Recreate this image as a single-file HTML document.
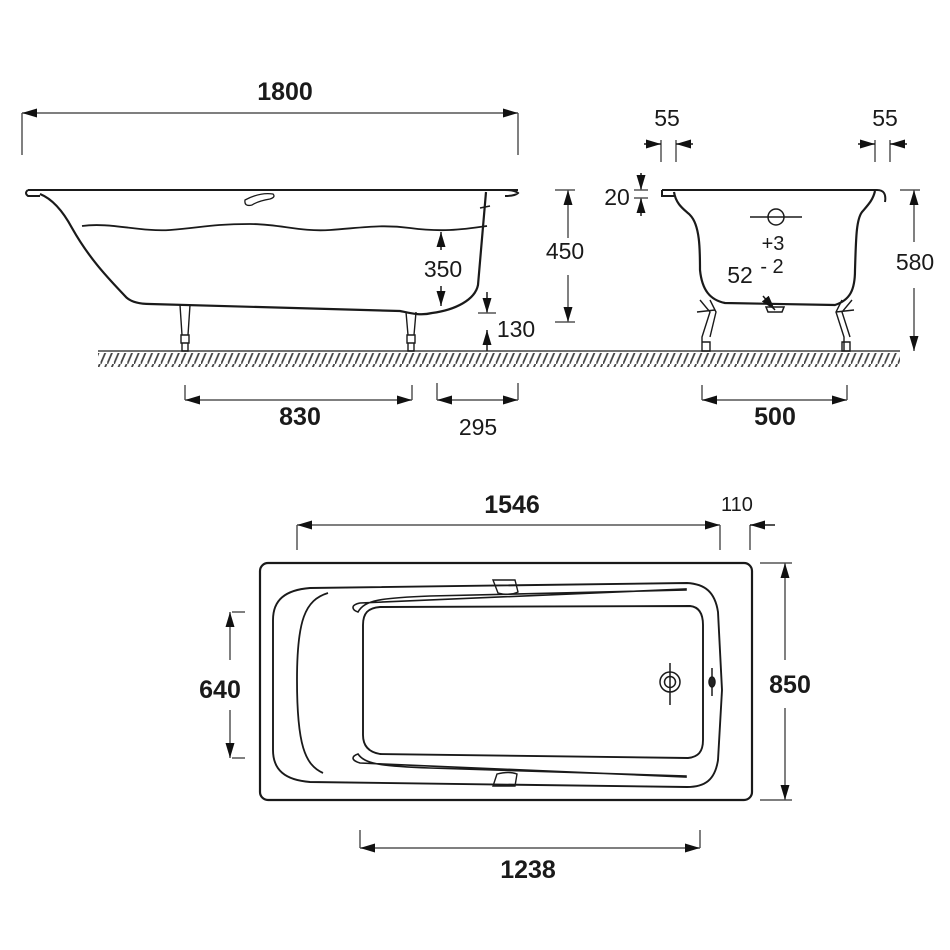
<!DOCTYPE html>
<html><head><meta charset="utf-8"><style>
html,body{margin:0;padding:0;background:#fff;}
svg{display:block;}
text{font-family:"Liberation Sans",Arial,sans-serif;fill:#1a1a1a;}
.b{font-weight:bold;font-size:25px;}
.n{font-size:23px;}
</style></head><body>
<svg width="950" height="950" viewBox="0 0 950 950" xmlns="http://www.w3.org/2000/svg">
<defs>
<marker id="a" viewBox="0 0 10 6" refX="10" refY="3" markerWidth="15" markerHeight="9" orient="auto-start-reverse" markerUnits="userSpaceOnUse"><path d="M0,0 L10,3 L0,6 Z" fill="#111"/></marker>
<pattern id="h" width="6.7" height="14" patternUnits="userSpaceOnUse"><line x1="0" y1="14" x2="6" y2="0" stroke="#444" stroke-width="1.8"/></pattern>
</defs>
<g stroke="#1a1a1a" fill="none" stroke-width="1.5">
<!-- 1800 -->
<line x1="22" y1="113" x2="22" y2="155" stroke="#555"/>
<line x1="518" y1="113" x2="518" y2="155" stroke="#555"/>
<line x1="22" y1="113" x2="518" y2="113" stroke="#555" marker-start="url(#a)" marker-end="url(#a)"/>
<!-- floor -->
<line x1="98" y1="351" x2="900" y2="351" stroke="#444" stroke-width="1.6"/>
<!-- side view tub -->
<path d="M28,190 L518,190 M28,190 q-4,3 0,6 L40,196 M505,190 q10,0 13,3 q-3,3 -13,3" stroke-width="2"/>
<path d="M40,194 C55,200 65,215 72,228 C90,260 110,280 125,296 C130,302 140,304 150,304 L400,311 C410,313 420,316 432,313 C455,310 475,300 478,285 L486,192" stroke-width="2.2"/>
<path d="M82,226 C110,222 140,232 170,230 C200,228 210,224 250,224 C280,224 300,232 330,230 C360,228 380,224 410,228 C440,232 460,230 487,226" stroke-width="1.8"/>
<path d="M245,200 q15,-8 28,-6 q3,3 -3,5 q-12,2 -18,6 q-8,2 -7,-5z" stroke-width="1.3"/>
<line x1="480" y1="208" x2="490" y2="206"/>
<!-- legs -->
<path d="M180,305 L182,335 M190,305 L188,335 M181,335 h8 v8 h-8z M182,343 h6 v8 h-6z" stroke-width="1.4"/>
<path d="M406,312 L408,335 M416,312 L414,335 M407,335 h8 v8 h-8z M408,343 h6 v8 h-6z" stroke-width="1.4"/>
<!-- 350 -->
<line x1="441" y1="232" x2="441" y2="250" marker-start="url(#a)"/>
<line x1="441" y1="286" x2="441" y2="306" marker-end="url(#a)"/>
<!-- 130 -->
<line x1="487" y1="292" x2="487" y2="313" marker-end="url(#a)"/>
<line x1="478" y1="313" x2="496" y2="313" stroke="#555"/>
<line x1="487" y1="330" x2="487" y2="351" marker-start="url(#a)"/>
<!-- 450 -->
<line x1="555" y1="190" x2="575" y2="190" stroke="#555"/>
<line x1="555" y1="322" x2="575" y2="322" stroke="#555"/>
<line x1="568" y1="190" x2="568" y2="238" stroke="#555" marker-start="url(#a)"/>
<line x1="568" y1="275" x2="568" y2="322" stroke="#555" marker-end="url(#a)"/>
<!-- 830 / 295 -->
<line x1="185" y1="385" x2="185" y2="400" stroke="#555"/>
<line x1="412" y1="385" x2="412" y2="400" stroke="#555"/>
<line x1="185" y1="400" x2="412" y2="400" stroke="#555" marker-start="url(#a)" marker-end="url(#a)"/>
<line x1="437" y1="383" x2="437" y2="400" stroke="#555"/>
<line x1="518" y1="383" x2="518" y2="400" stroke="#555"/>
<line x1="437" y1="400" x2="518" y2="400" stroke="#555" marker-start="url(#a)" marker-end="url(#a)"/>
<!-- end view -->
<path d="M662,190 L877,190 q10,0 8,12 M662,190 v6 h12" stroke-width="2"/>
<path d="M674,192 C676,205 685,210 690,215 C700,225 700,250 700,270 C702,290 710,300 725,303 L835,305 C850,300 855,290 855,270 C856,240 856,220 862,212 C868,205 873,200 875,191" stroke-width="2.2"/>
<line x1="750" y1="217" x2="802" y2="217"/>
<circle cx="776" cy="217" r="8"/>
<path d="M763,296 l12,14" marker-end="url(#a)"/>
<path d="M766,307 h18 l-2,5 h-14z"/>
<path d="M700,300 l10,12 l-8,25 v14 M710,300 l6,12 l-6,25 M697,312 l18,-2 M702,342 h8 v9 h-8z" stroke-width="1.4"/>
<path d="M842,300 l-6,12 l8,25 v14 M852,300 l-10,12 l8,25 M836,312 l18,-2 M842,342 h8 v9 h-8z" stroke-width="1.4"/>
<!-- 55s -->
<line x1="661" y1="140" x2="661" y2="162" stroke="#555"/><line x1="676" y1="140" x2="676" y2="162" stroke="#555"/>
<line x1="644" y1="144" x2="661" y2="144" marker-end="url(#a)"/><line x1="693" y1="144" x2="676" y2="144" marker-end="url(#a)"/>
<line x1="875" y1="140" x2="875" y2="162" stroke="#555"/><line x1="890" y1="140" x2="890" y2="162" stroke="#555"/>
<line x1="858" y1="144" x2="875" y2="144" marker-end="url(#a)"/><line x1="907" y1="144" x2="890" y2="144" marker-end="url(#a)"/>
<!-- 20 -->
<line x1="641" y1="173" x2="641" y2="190" marker-end="url(#a)"/>
<line x1="641" y1="216" x2="641" y2="198" marker-end="url(#a)"/>
<line x1="634" y1="190" x2="648" y2="190" stroke="#555"/><line x1="634" y1="198" x2="648" y2="198" stroke="#555"/>
<!-- 580 -->
<line x1="900" y1="190" x2="920" y2="190" stroke="#555"/>
<line x1="914" y1="190" x2="914" y2="242" stroke="#555" marker-start="url(#a)"/>
<line x1="914" y1="288" x2="914" y2="351" stroke="#555" marker-end="url(#a)"/>
<!-- 500 -->
<line x1="702" y1="385" x2="702" y2="400" stroke="#555"/><line x1="847" y1="385" x2="847" y2="400" stroke="#555"/>
<line x1="702" y1="400" x2="847" y2="400" stroke="#555" marker-start="url(#a)" marker-end="url(#a)"/>
<!-- top view -->
<rect x="260" y="563" width="492" height="237" rx="8" stroke-width="2.2"/>
<path d="M310,588 L687,583 C705,584 715,592 718,612 L722,690 L718,760 C715,780 705,787 687,787 L310,782 C285,780 273,770 273,750 L273,620 C273,600 285,590 310,588Z" stroke-width="1.9"/>
<path d="M328,593 C305,600 297,620 297,680 C297,745 305,765 323,773" stroke-width="1.8"/>
<path d="M380,607 L690,606 C700,607 703,615 703,625 L703,740 C703,752 698,757 688,758 L380,754 C368,752 363,745 363,735 L363,625 C363,613 368,608 380,607Z" stroke-width="1.9"/>
<path d="M358,612 C365,600 380,598 430,596 L686,590 L686,589 L360,603 C350,605 352,610 358,612Z" stroke-width="1.6"/>
<path d="M358,754 C365,764 380,766 430,768 L686,776 L686,777 L360,763 C350,760 352,756 358,754Z" stroke-width="1.6"/>
<path d="M493,580 h22 l3,12 q-8,4 -20,1z" stroke-width="1.4"/>
<path d="M493,786 h22 l2,-12 q-8,-3 -20,0z" stroke-width="1.4"/>
<circle cx="670" cy="682" r="10"/><circle cx="670" cy="682" r="5.5"/>
<line x1="670" y1="663" x2="670" y2="705"/>
<line x1="712" y1="668" x2="712" y2="696"/><ellipse cx="712" cy="682" rx="3" ry="5" fill="#222"/>
<!-- 1546 / 110 -->
<line x1="297" y1="525" x2="297" y2="550" stroke="#555"/><line x1="720" y1="525" x2="720" y2="550" stroke="#555"/>
<line x1="297" y1="525" x2="720" y2="525" stroke="#555" marker-start="url(#a)" marker-end="url(#a)"/>
<line x1="750" y1="525" x2="750" y2="550" stroke="#555"/>
<line x1="775" y1="525" x2="750" y2="525" marker-end="url(#a)"/>
<!-- 850 -->
<line x1="760" y1="563" x2="792" y2="563" stroke="#555"/><line x1="760" y1="800" x2="792" y2="800" stroke="#555"/>
<line x1="785" y1="563" x2="785" y2="660" stroke="#555" marker-start="url(#a)"/>
<line x1="785" y1="708" x2="785" y2="800" stroke="#555" marker-end="url(#a)"/>
<!-- 640 -->
<line x1="232" y1="612" x2="245" y2="612" stroke="#555"/><line x1="232" y1="758" x2="245" y2="758" stroke="#555"/>
<line x1="230" y1="612" x2="230" y2="660" stroke="#555" marker-start="url(#a)"/>
<line x1="230" y1="710" x2="230" y2="758" stroke="#555" marker-end="url(#a)"/>
<!-- 1238 -->
<line x1="360" y1="830" x2="360" y2="848" stroke="#555"/><line x1="700" y1="830" x2="700" y2="848" stroke="#555"/>
<line x1="360" y1="848" x2="700" y2="848" stroke="#555" marker-start="url(#a)" marker-end="url(#a)"/>
</g>
<rect x="98" y="353" width="802" height="14" fill="url(#h)"/>
<text x="285" y="100" text-anchor="middle" class="b">1800</text>
<text x="443" y="277" text-anchor="middle" class="n">350</text>
<text x="565" y="259" text-anchor="middle" class="n">450</text>
<text x="516" y="337" text-anchor="middle" class="n">130</text>
<text x="300" y="425" text-anchor="middle" class="b">830</text>
<text x="478" y="435" text-anchor="middle" class="n">295</text>
<text x="667" y="126" text-anchor="middle" class="n">55</text>
<text x="885" y="126" text-anchor="middle" class="n">55</text>
<text x="617" y="205" text-anchor="middle" class="n">20</text>
<text x="773" y="250" text-anchor="middle" class="n" style="font-size:20px">+3</text>
<text x="740" y="283" text-anchor="middle" class="n">52</text>
<text x="772" y="273" text-anchor="middle" class="n" style="font-size:20px">- 2</text>
<text x="915" y="270" text-anchor="middle" class="n">580</text>
<text x="775" y="425" text-anchor="middle" class="b">500</text>
<text x="512" y="513" text-anchor="middle" class="b">1546</text>
<text x="737" y="511" text-anchor="middle" class="n" style="font-size:20px">110</text>
<text x="790" y="693" text-anchor="middle" class="b">850</text>
<text x="220" y="698" text-anchor="middle" class="b">640</text>
<text x="528" y="878" text-anchor="middle" class="b">1238</text>
</svg>
</body></html>
